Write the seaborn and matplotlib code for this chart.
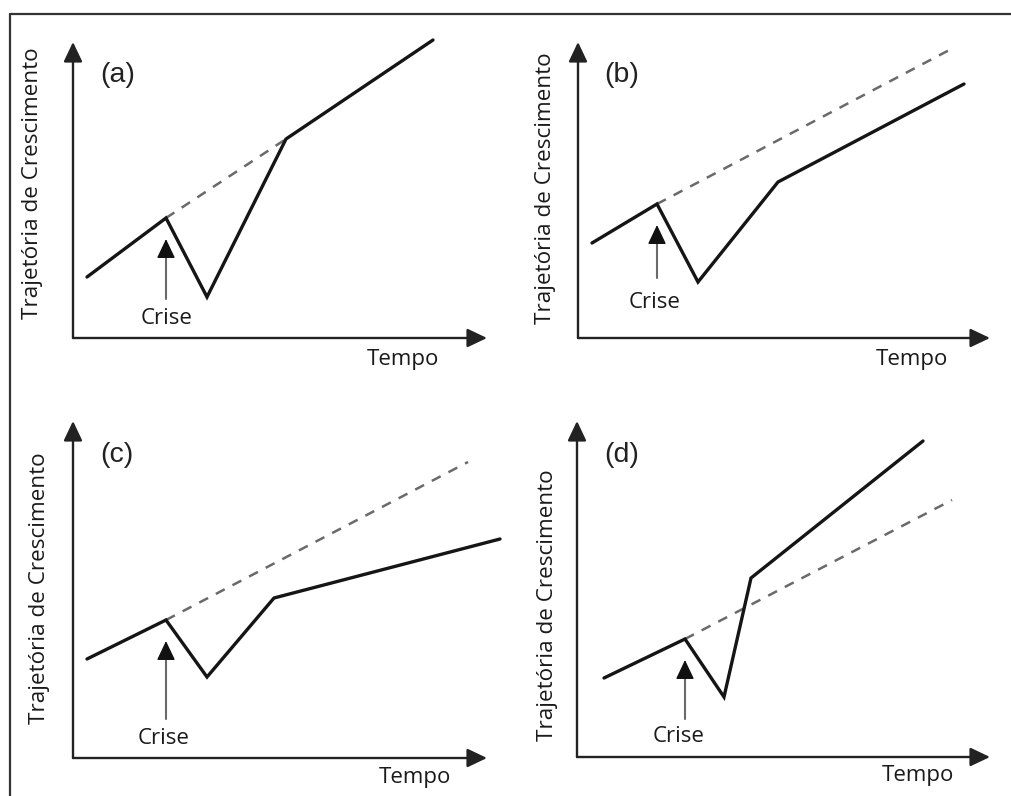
import matplotlib
matplotlib.use("Agg")
import matplotlib.pyplot as plt
import seaborn as sns
import pandas as pd
from matplotlib.lines import Line2D

sns.set_theme(style="white")
plt.rcParams['font.family'] = ['Open Sans', 'DejaVu Sans']

# ---- data (arbitrary units: time vs growth trajectory) ----
panel_labels = ["(a)", "(b)", "(c)", "(d)"]
y_label = "Trajetória de Crescimento"
x_label = "Tempo"
crisis_label = "Crise"

# solid (actual) trajectories
a_time = [1.4, 9.3, 13.4, 21.3, 36.0]
a_value = [6.1, 12.0, 4.1, 19.9, 29.8]
b_time = [1.4, 7.9, 12.0, 20.0, 38.6]
b_value = [9.5, 13.4, 5.6, 15.6, 25.4]
c_time = [1.4, 9.3, 13.4, 20.1, 42.7]
c_value = [9.9, 13.8, 8.1, 16.0, 21.9]
d_time = [2.7, 10.8, 14.7, 17.4, 34.6]
d_value = [7.9, 11.8, 6.0, 17.9, 31.6]

# dashed (pre-crisis trend) trajectories
a_trend_time = [9.3, 21.3]
a_trend_value = [12.0, 19.9]
b_trend_time = [7.9, 37.7]
b_trend_value = [13.4, 29.1]
c_trend_time = [9.3, 39.5]
c_trend_value = [13.8, 29.6]
d_trend_time = [10.8, 37.5]
d_trend_value = [11.8, 25.7]

# crisis arrow (time, bottom, top)
crisis_time = [9.3, 7.9, 9.3, 10.8]
crisis_bottom = [3.9, 6.0, 3.9, 3.8]
crisis_top = [9.9, 11.3, 11.7, 9.7]

# ---- layout (pixels) ----
W, H = 1011, 796
origins = [(73, 338), (578, 338), (73, 758), (577, 757)]
extents = [(414, 296), (412, 296), (414, 337), (413, 336)]
crise_pos = [(9.4, 1.9), (7.7, 3.6), (9.1, 2.0), (10.2, 2.0)]
tempo_pos = [(33.0, -2.2), (33.4, -2.2), (34.2, -1.9), (34.1, -1.9)]
label_pos = [(4.5, 26.3), (4.4, 26.3), (4.4, 30.3), (4.5, 30.2)]
ylab_pos = [(-4.0, 15.5), (-3.3, 15.0), (-3.3, 17.0), (-2.9, 15.2)]

solids = [(a_time, a_value), (b_time, b_value), (c_time, c_value), (d_time, d_value)]
trends = [(a_trend_time, a_trend_value), (b_trend_time, b_trend_value),
          (c_trend_time, c_trend_value), (d_trend_time, d_trend_value)]

fig = plt.figure(figsize=(W / 100, H / 100), dpi=100)
fig.patch.set_facecolor("white")

# outer frame (left and top visible)
fig.add_artist(Line2D([10 / W, 10 / W], [0, 1 - 14 / H], transform=fig.transFigure,
                      color="#333333", lw=1.6))
fig.add_artist(Line2D([10 / W, 1], [1 - 14 / H, 1 - 14 / H], transform=fig.transFigure,
                      color="#333333", lw=1.6))

axis_col = "#222222"
text_col = "#1a1a1a"
head_style = "-|>,head_length=0.8,head_width=0.38"

for i in range(4):
    x0, y0 = origins[i]
    ex, ey = extents[i]
    ax = fig.add_axes([x0 / W, (H - y0) / H, ex / W, ey / H])
    ax.set_xlim(0, ex / 10)
    ax.set_ylim(0, ey / 10)
    ax.set_axis_off()
    ax.patch.set_alpha(0)

    # axes arrows
    ax.annotate("", xy=(ex / 10, 0), xytext=(0, 0),
                arrowprops=dict(arrowstyle=head_style, color=axis_col, lw=1.7,
                                mutation_scale=15, shrinkA=0, shrinkB=0),
                annotation_clip=False)
    ax.annotate("", xy=(0, ey / 10), xytext=(0, 0),
                arrowprops=dict(arrowstyle=head_style, color=axis_col, lw=1.7,
                                mutation_scale=15, shrinkA=0, shrinkB=0),
                annotation_clip=False)

    # trend (dashed)
    tdf = pd.DataFrame({"t": trends[i][0], "v": trends[i][1]})
    sns.lineplot(data=tdf, x="t", y="v", ax=ax, color="#6a6a6a", lw=1.8,
                 linestyle=(0, (4, 3.5)), sort=False, estimator=None)
    # actual (solid)
    sdf = pd.DataFrame({"t": solids[i][0], "v": solids[i][1]})
    sns.lineplot(data=sdf, x="t", y="v", ax=ax, color="#151515", lw=2.4,
                 sort=False, estimator=None)
    for ln in ax.lines:
        ln.set_clip_on(False)
        ln.set_solid_joinstyle("miter")

    # crisis arrow: gray shaft + black head
    ax.annotate("", xy=(crisis_time[i], crisis_top[i] - 1.0),
                xytext=(crisis_time[i], crisis_bottom[i]),
                arrowprops=dict(arrowstyle="-", color="#6a6a6a", lw=1.5,
                                shrinkA=0, shrinkB=0), annotation_clip=False)
    ax.annotate("", xy=(crisis_time[i], crisis_top[i]),
                xytext=(crisis_time[i], crisis_top[i] - 1.1),
                arrowprops=dict(arrowstyle=head_style, color="#111111", lw=1.0,
                                mutation_scale=15, shrinkA=0, shrinkB=0),
                annotation_clip=False)

    ax.text(crise_pos[i][0], crise_pos[i][1], crisis_label, ha="center", va="center",
            fontsize=16, color=text_col, clip_on=False)
    ax.text(tempo_pos[i][0], tempo_pos[i][1], x_label, ha="center", va="center",
            fontsize=16, color=text_col, clip_on=False)
    ax.text(label_pos[i][0], label_pos[i][1], panel_labels[i], ha="center", va="center",
            fontsize=20.5, color="#222222", family=["Liberation Sans", "DejaVu Sans"],
            clip_on=False)
    ax.text(ylab_pos[i][0], ylab_pos[i][1], y_label, ha="center", va="center",
            rotation=90, fontsize=16.2, color=text_col, clip_on=False)
    ax.set_xlabel("")
    ax.set_ylabel("")

fig.savefig("out.png", dpi=100, facecolor="white")
